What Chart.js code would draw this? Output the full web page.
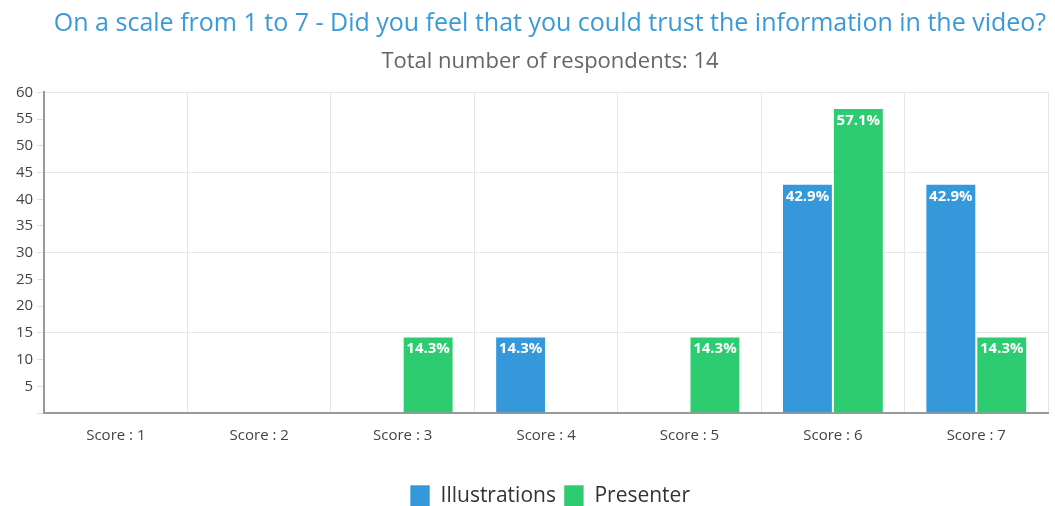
<!DOCTYPE html>
<html>
<head>
<meta charset="utf-8">
<script src="https://cdn.jsdelivr.net/npm/chart.js@4"></script>
<style>
  html, body { margin: 0; padding: 0; background: #fff; overflow: hidden; }
  #wrap { width: 1088px; height: 506px; }
</style>
</head>
<body>
<div id="wrap"><canvas id="chart"></canvas></div>
<script>
// Data
const categories = ['Score : 1', 'Score : 2', 'Score : 3', 'Score : 4', 'Score : 5', 'Score : 6', 'Score : 7'];
const illustrations = [0, 0, 0, 14.3, 0, 42.9, 42.9];
const presenter = [0, 0, 14.3, 0, 14.3, 57.1, 14.3];
const seriesNames = ['Illustrations', 'Presenter'];
const titleText = 'On a scale from 1 to 7 - Did you feel that you could trust the information in the video?';
const subtitleText = 'Total number of respondents: 14';

const font = '"Open Sans", sans-serif';

// Percent labels at top of each bar
const barLabels = {
  id: 'barLabels',
  afterDatasetsDraw(chart) {
    const ctx = chart.ctx;
    ctx.save();
    ctx.font = 'bold 15px ' + font;
    ctx.fillStyle = '#fff';
    ctx.textAlign = 'center';
    ctx.textBaseline = 'top';
    chart.data.datasets.forEach((ds, i) => {
      chart.getDatasetMeta(i).data.forEach((bar, j) => {
        if (!ds.data[j]) return;
        ctx.fillText(ds.data[j].toFixed(1) + '%', bar.x, bar.y + 5);
      });
    });
    ctx.restore();
  }
};

new Chart(document.getElementById('chart'), {
  type: 'bar',
  data: {
    labels: categories,
    datasets: [
      { label: seriesNames[0], data: illustrations, backgroundColor: '#3498db', borderColor: 'rgba(255,255,255,0.6)', borderWidth: 1 },
      { label: seriesNames[1], data: presenter, backgroundColor: '#2ecc71', borderColor: 'rgba(255,255,255,0.6)', borderWidth: 1 }
    ]
  },
  options: {
    responsive: true,
    maintainAspectRatio: false,
    animation: false,
    datasets: { bar: { barPercentage: 1, categoryPercentage: 0.71 } },
    layout: { padding: { left: 12, right: 0, top: 0, bottom: -11 } },
    plugins: {
      title: {
        display: true,
        text: titleText,
        color: '#3a9ad9',
        font: { family: font, size: 25, weight: 'normal' },
        padding: { top: 9, bottom: 10 }
      },
      subtitle: {
        display: true,
        text: subtitleText,
        color: '#666',
        font: { family: font, size: 22 },
        padding: { bottom: 17 }
      },
      legend: {
        position: 'bottom',
        labels: {
          boxWidth: 20,
          boxHeight: 22,
          color: '#333',
          font: { family: font, size: 21 },
          padding: 8
        }
      },
      tooltip: { enabled: false }
    },
    scales: {
      x: {
        grid: { color: '#e6e6e6', offset: true, drawTicks: false },
        border: { color: '#999', width: 2 },
        ticks: { color: '#444', font: { family: font, size: 15 }, padding: 14 },
        afterFit: s => { s.height += 18; }
      },
      y: {
        min: 0,
        max: 60,
        ticks: {
          stepSize: 5,
          color: '#444',
          font: { family: font, size: 15 },
          padding: 4,
          callback: v => v === 0 ? '' : v
        },
        grid: {
          color: c => c.tick && c.tick.value % 15 === 0 && c.tick.value > 0 ? '#e6e6e6' : 'transparent',
          tickColor: '#ddd',
          tickLength: 7
        },
        border: { color: '#999', width: 2 }
      },
      // empty right-hand axis, only reserves space so the title stays centred
      yRight: {
        position: 'right',
        ticks: { display: false },
        grid: { display: false },
        border: { display: false },
        afterFit: s => { s.width = 40; }
      }
    }
  },
  plugins: [barLabels]
});
</script>
</body>
</html>
